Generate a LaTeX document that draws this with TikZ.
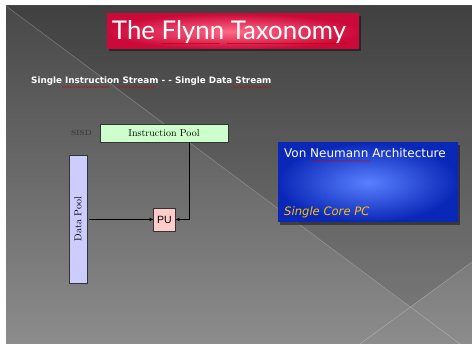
\documentclass[tikz,border=0pt]{standalone}
\usepackage{fontspec}
\newfontfamily\titlefont{Lato}
\newfontfamily\slidefont{DejaVu Sans}
\newfontfamily\pufont{Liberation Sans}
\usetikzlibrary{decorations.pathmorphing,arrows.meta}
\definecolor{bgdark}{HTML}{484848}
\definecolor{bglight}{HTML}{8C8C8C}
\definecolor{crimsonA}{HTML}{FF6A88}
\definecolor{crimsonB}{HTML}{CC0A3A}
\definecolor{blueA}{HTML}{5A80FF}
\definecolor{blueB}{HTML}{0A28B8}
\definecolor{ipool}{HTML}{CCFFCC}
\definecolor{dpool}{HTML}{CCCCFF}
\definecolor{pubox}{HTML}{FFCCCC}
\definecolor{orangetxt}{HTML}{FFC000}
\tikzset{
  squig/.style={red!80!black, line width=0.35pt, decorate, decoration={snake, amplitude=0.35pt, segment length=1.6pt}},
  poolbox/.style={draw=black!80, line width=0.6pt, inner sep=0pt, font=\rmfamily\fontsize{10}{12}\selectfont},
  flow/.style={-{Stealth[length=4pt,width=3.5pt]}, line width=0.6pt, black}
}
\begin{document}
\begin{tikzpicture}[x=1pt,y=-1pt]
\useasboundingbox (0,0) rectangle (472,344);
\fill[white] (0,0) rectangle (472,344);
% background
\shade[shading angle=-35, top color=bgdark, bottom color=bglight] (6,6) rectangle (472,344);
\fill[black, opacity=0.10] (6,6) -- (472,6) -- (472,262) -- (410,307) -- cycle;
\draw[white, opacity=0.25, line width=0.6pt] (6,6) -- (460,344);
\draw[white, opacity=0.25, line width=0.6pt] (360,344) -- (472,262);
% title
\fill[black, opacity=0.45] (109,16) rectangle (361,51);
\shade[inner color=crimsonA, outer color=crimsonB] (107,14) rectangle (359,49);
\node[anchor=center, text=white, font=\titlefont\fontsize{25.8}{28}\selectfont, inner sep=0pt] (title) at (229,32) {The Flynn Taxonomy};
\draw[squig] (161,43.5) -- (220,43.5);
\draw[squig] (227,43.5) -- (347,43.5);
% subtitle
\node[anchor=base west, text=white, font=\slidefont\bfseries\fontsize{8.8}{10}\selectfont, inner sep=0pt] (sub) at (31,84) {Single Instruction Stream - - Single Data Stream};
\draw[squig, line width=0.3pt] (62,87) -- (109,87);
\draw[squig, line width=0.3pt] (117,87) -- (155,87);
\draw[squig, line width=0.3pt] (233,87) -- (270,87);
% SISD diagram
\node[anchor=east, text=black!75, font=\rmfamily\bfseries\fontsize{7.5}{8}\selectfont, inner sep=0pt] (sisd) at (92,133) {SISD};
\node[poolbox, fill=ipool, minimum width=128pt, minimum height=18pt] (ip) at (164,133) {Instruction Pool};
\node[poolbox, fill=dpool, minimum width=128pt, minimum height=18pt, rotate=90] (dp) at (78,219) {Data Pool};
\node[draw=black!80, line width=0.6pt, fill=pubox, minimum width=22pt, minimum height=23pt, inner sep=0pt, font=\pufont\fontsize{10.5}{12}\selectfont] (pu) at (164.5,219.5) {PU};
\draw[flow] (dp.south |- pu.west) ++(2,0) coordinate (dpout) (dpout) -- (pu.west);
\draw[flow] (ip.south -| 189,0) coordinate (ipout) (ipout) |- (pu.east);
% blue box
\fill[black, opacity=0.45] (280,145) rectangle (460,225);
\shade[inner color=blueA, outer color=blueB] (278,143) rectangle (458,222);
\node[anchor=base west, text=white, font=\slidefont\fontsize{12}{13}\selectfont, inner sep=0pt] (vn) at (284,158) {Von Neumann Architecture};
\draw[squig, line width=0.3pt] (311,161) -- (370,161);
\node[anchor=base west, text=orangetxt, font=\slidefont\itshape\fontsize{11.6}{14}\selectfont, inner sep=0pt] (sc) at (284,216) {Single Core PC};
\end{tikzpicture}
\end{document}
